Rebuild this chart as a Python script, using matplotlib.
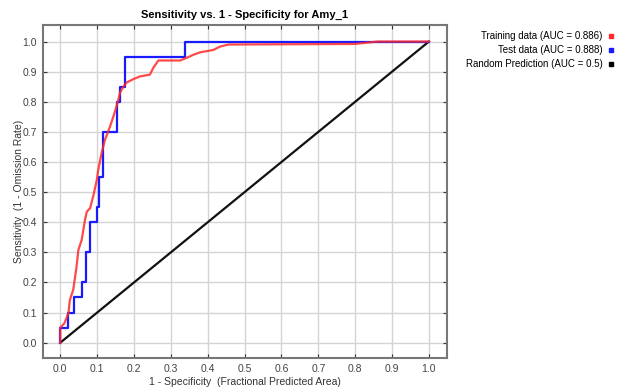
import matplotlib
matplotlib.use('Agg')
import matplotlib.pyplot as plt
from matplotlib.lines import Line2D

plt.rcParams['font.family'] = ['Liberation Sans', 'DejaVu Sans']

# ROC curve for training data (red)
train_fpr = [0, 0, 0.011, 0.022, 0.026, 0.035, 0.044, 0.049, 0.058, 0.067, 0.072, 0.081,
             0.09, 0.099, 0.103, 0.112, 0.121, 0.135, 0.144, 0.155, 0.162, 0.171, 0.18,
             0.198, 0.216, 0.243, 0.252, 0.266, 0.325, 0.343, 0.361, 0.379, 0.415, 0.433,
             0.456, 0.8, 0.83, 0.862, 1.0]
train_tpr = [0, 0.05, 0.064, 0.098, 0.142, 0.175, 0.252, 0.308, 0.341, 0.408, 0.435, 0.447,
             0.49, 0.54, 0.574, 0.629, 0.673, 0.718, 0.751, 0.795, 0.83, 0.85, 0.864,
             0.875, 0.884, 0.89, 0.912, 0.937, 0.937, 0.946, 0.956, 0.964, 0.972, 0.983,
             0.99, 0.992, 0.996, 1.0, 1.0]

# ROC curve for test data (blue), step points
test_fpr = [0, 0, 0.022, 0.022, 0.038, 0.038, 0.058, 0.058, 0.07, 0.07, 0.08, 0.08, 0.099,
            0.099, 0.104, 0.104, 0.115, 0.115, 0.153, 0.153, 0.163, 0.163, 0.176, 0.176,
            0.338, 0.338, 1.0]
test_tpr = [0, 0.05, 0.05, 0.1, 0.1, 0.15, 0.15, 0.2, 0.2, 0.3, 0.3, 0.4, 0.4,
            0.45, 0.45, 0.55, 0.55, 0.7, 0.7, 0.8, 0.8, 0.85, 0.85, 0.95,
            0.95, 1.0, 1.0]

random_x = [0, 1]
random_y = [0, 1]

labels = ['Training data (AUC = 0.886)', 'Test data (AUC = 0.888)', 'Random Prediction (AUC = 0.5)']
colors = ['#ff2a2a', '#1a1aff', 'black']
ticks = [i / 10 for i in range(11)]

fig = plt.figure(figsize=(6.21, 3.9), dpi=100)
ax = fig.add_axes([0.0692, 0.082, 0.6506, 0.854])

ax.plot(random_x, random_y, color='#111111', linewidth=1.6)
ax.plot(test_fpr, test_tpr, color=colors[1], linewidth=1.6)
ax.plot(train_fpr, train_tpr, color=colors[0], linewidth=1.6, alpha=0.85)

ax.set_xlim(-0.047, 1.049)
ax.set_ylim(-0.051, 1.055)
ax.set_xticks(ticks)
ax.set_yticks(ticks)
ax.set_xticklabels([f'{t:.1f}' for t in ticks])
ax.set_yticklabels([f'{t:.1f}' for t in ticks])
ax.grid(True, color='#d4d4d4', linewidth=1.0)
ax.set_axisbelow(True)
ax.tick_params(direction='in', length=3, width=0.8, colors='#333333', labelcolor='#444444',
               labelsize=7.5, top=True, right=True, pad=4.5)
for side in ax.spines.values():
    side.set_color('#777777')
    side.set_linewidth(1.5)

ax.set_title('Sensitivity vs. 1 - Specificity for Amy_1', fontsize=8, fontweight='bold', pad=5)
ax.set_xlabel('1 - Specificity  (Fractional Predicted Area)', fontsize=7.5, color='#333333', labelpad=2)
ax.set_ylabel('Sensitivity  (1 - Omission Rate)', fontsize=7.5, color='#333333', labelpad=-1)

handles = [Line2D([], [], marker='s', linestyle='none', color=c, markersize=3.5) for c in colors]
fig.legend(handles, labels, loc='upper right', bbox_to_anchor=(0.995, 0.93), frameon=False,
           markerfirst=False, fontsize=7, handlelength=0.6, handletextpad=0.6,
           labelspacing=0.4, borderaxespad=0)

plt.savefig('out.png', dpi=100)
